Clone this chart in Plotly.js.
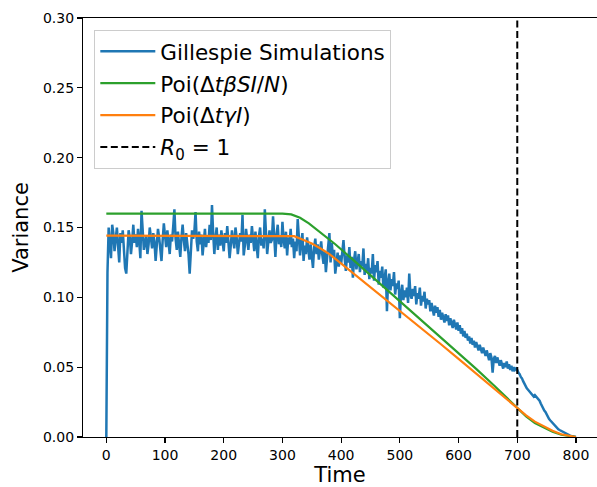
<!DOCTYPE html>
<html>
<head>
<meta charset="utf-8">
<script src="https://cdn.plot.ly/plotly-3.0.1.min.js"></script>
<style>html,body{margin:0;padding:0;background:#fff;}#chart{width:597px;height:487px;}</style>
</head>
<body>
<div id="chart"></div>
<script>
// ---- Gillespie simulation variance, sampled every 2 time units from t=0 to t=800 ----
var gillespieStart = 0;
var gillespieStep = 2;
var gillespieVariance = [
  0, 0.118, 0.150, 0.138, 0.128, 0.152, 0.146, 0.133, 0.142, 0.150, 0.137, 0.125, 0.146, 0.139, 0.148, 0.135, 0.121, 0.117, 0.134, 0.148, 0.143, 0.131, 0.140, 0.152, 0.139,
  0.145, 0.136, 0.149, 0.141, 0.128, 0.162, 0.147, 0.134, 0.139, 0.144, 0.131, 0.138, 0.150, 0.142, 0.135, 0.146, 0.140, 0.126, 0.137, 0.149, 0.143, 0.132, 0.126, 0.141, 0.153,
  0.144, 0.136, 0.148, 0.139, 0.131, 0.145, 0.140, 0.151, 0.163, 0.142, 0.134, 0.147, 0.138, 0.129, 0.143, 0.152, 0.141, 0.133, 0.146, 0.139, 0.131, 0.117, 0.136, 0.148, 0.142,
  0.147, 0.161, 0.140, 0.133, 0.147, 0.138, 0.145, 0.130, 0.142, 0.149, 0.136, 0.144, 0.139, 0.152, 0.141, 0.166, 0.146, 0.131, 0.143, 0.150, 0.134, 0.145, 0.137, 0.148, 0.140,
  0.133, 0.146, 0.139, 0.151, 0.142, 0.128, 0.137, 0.148, 0.141, 0.135, 0.150, 0.143, 0.131, 0.138, 0.146, 0.140, 0.159, 0.130, 0.137, 0.149, 0.142, 0.134, 0.145, 0.139, 0.151,
  0.140, 0.133, 0.147, 0.138, 0.128, 0.144, 0.150, 0.137, 0.142, 0.135, 0.163, 0.146, 0.131, 0.140, 0.148, 0.139, 0.141, 0.158, 0.143, 0.129, 0.145, 0.152, 0.138, 0.144, 0.136,
  0.154, 0.141, 0.135, 0.147, 0.130, 0.143, 0.138, 0.149, 0.136, 0.142, 0.128, 0.140, 0.133, 0.156, 0.144, 0.130, 0.139, 0.146, 0.126, 0.137, 0.131, 0.143, 0.135, 0.127, 0.138,
  0.129, 0.121, 0.136, 0.142, 0.131, 0.138, 0.127, 0.134, 0.140, 0.130, 0.124, 0.133, 0.118, 0.128, 0.137, 0.146, 0.125, 0.139, 0.129, 0.134, 0.117, 0.126, 0.132, 0.122, 0.130,
  0.124, 0.133, 0.141, 0.128, 0.119, 0.130, 0.125, 0.136, 0.121, 0.129, 0.114, 0.127, 0.133, 0.120, 0.125, 0.131, 0.118, 0.126, 0.122, 0.135, 0.116, 0.124, 0.119, 0.128, 0.113,
  0.121, 0.117, 0.131, 0.112, 0.123, 0.118, 0.126, 0.109, 0.119, 0.114, 0.122, 0.107, 0.116, 0.120, 0.090, 0.111, 0.117, 0.105, 0.113, 0.108, 0.118, 0.102, 0.110, 0.106, 0.112,
  0.085, 0.103, 0.109, 0.098, 0.105, 0.100, 0.107, 0.096, 0.117, 0.102, 0.099, 0.106, 0.101, 0.108, 0.095, 0.103, 0.099, 0.107, 0.094, 0.101, 0.097, 0.104, 0.092, 0.099, 0.095,
  0.098, 0.090, 0.096, 0.092, 0.087, 0.094, 0.089, 0.093, 0.086, 0.091, 0.084, 0.089, 0.086, 0.082, 0.088, 0.083, 0.087, 0.080, 0.085, 0.081, 0.078, 0.084, 0.080, 0.077, 0.082,
  0.076, 0.080, 0.074, 0.078, 0.072, 0.076, 0.071, 0.074, 0.069, 0.072, 0.067, 0.071, 0.066, 0.069, 0.064, 0.068, 0.065, 0.062, 0.066, 0.063, 0.060, 0.064, 0.061, 0.058, 0.062,
  0.059, 0.055, 0.060, 0.057, 0.046, 0.056, 0.058, 0.053, 0.057, 0.054, 0.051, 0.055, 0.052, 0.049, 0.053, 0.050, 0.054, 0.049, 0.052, 0.048, 0.051, 0.047, 0.050, 0.048, 0.049,
  0.048, 0.046, 0.045, 0.043, 0.042, 0.040, 0.038, 0.037, 0.035, 0.034, 0.033, 0.032, 0.031, 0.030, 0.029, 0.030, 0.029, 0.028, 0.027, 0.026, 0.024, 0.022, 0.020, 0.019, 0.018,
  0.016, 0.015, 0.013, 0.012, 0.011, 0.010, 0.009, 0.008, 0.007, 0.006, 0.0055, 0.005, 0.0045, 0.004, 0.0035, 0.003, 0.0026, 0.0022, 0.0018, 0.0014, 0.001, 0.0007, 0.0004, 0.0002, 0.0001, 0
];

// ---- Poi(Δt β S I / N) approximation ----
var infectionTime = [0, 300, 315, 330, 345, 360, 375, 390, 420, 450, 480, 510, 540, 570, 600, 630, 660, 680, 700, 715, 730, 745, 760, 775, 790, 800];
var infectionVariance = [0.16, 0.16, 0.1594, 0.1570, 0.1530, 0.1482, 0.1430, 0.1380, 0.1270, 0.1158, 0.1050, 0.0937, 0.0825, 0.0712, 0.0600, 0.0488, 0.0370, 0.0290, 0.0205, 0.0148, 0.0100, 0.0066, 0.0037, 0.0016, 0.0004, 0.0];

// ---- Poi(Δt γ I) approximation ----
var recoveryTime = [0, 310, 320, 335, 350, 365, 380, 395, 420, 450, 480, 510, 540, 570, 600, 630, 660, 680, 700, 715, 730, 745, 760, 775, 790, 800];
var recoveryVariance = [0.1442, 0.1442, 0.1438, 0.1412, 0.1385, 0.1350, 0.1310, 0.1260, 0.1175, 0.1072, 0.0975, 0.0872, 0.0768, 0.0664, 0.0560, 0.0455, 0.0350, 0.0280, 0.0205, 0.0155, 0.0110, 0.0075, 0.0045, 0.0020, 0.0006, 0.0];

// ---- R0 = 1 threshold ----
var thresholdTime = 700;
var yLimits = [0, 0.30];

var xTickValues = [0, 100, 200, 300, 400, 500, 600, 700, 800];
var yTickValues = [0, 0.05, 0.10, 0.15, 0.20, 0.25, 0.30];

var gillespieTime = gillespieVariance.map(function (_, i) { return gillespieStart + i * gillespieStep; });

var FONT = 'DejaVu Sans, Liberation Sans, sans-serif';

var traces = [
  {
    x: gillespieTime, y: gillespieVariance, type: 'scatter', mode: 'lines',
    name: 'Gillespie Simulations', legendgroup: 'a',
    line: {color: '#1f77b4', width: 2.5}
  },
  {
    x: infectionTime, y: infectionVariance, type: 'scatter', mode: 'lines',
    name: 'Poi(Δ<i>tβSI</i>/<i>N</i>)', legendgroup: 'b',
    line: {color: '#2ca02c', width: 2.2}
  },
  {
    x: recoveryTime, y: recoveryVariance, type: 'scatter', mode: 'lines',
    name: 'Poi(Δ<i>tγI</i>)', legendgroup: 'c',
    line: {color: '#ff7f0e', width: 2.2}
  },
  {
    x: [thresholdTime, thresholdTime], y: yLimits, type: 'scatter', mode: 'lines',
    name: '<i>R</i><sub>0</sub> = 1', legendgroup: 'd',
    line: {color: '#000000', width: 2, dash: '7px,3.5px'}
  }
];

var layout = {
  width: 597, height: 487,
  margin: {l: 83, r: 0, t: 18, b: 50, pad: 0},
  paper_bgcolor: '#ffffff', plot_bgcolor: '#ffffff',
  font: {family: FONT, color: '#000000', size: 14},
  showlegend: true,
  legend: {
    x: 0.022, y: 0.972, xanchor: 'left', yanchor: 'top',
    bgcolor: 'rgba(255,255,255,0.85)', bordercolor: '#cccccc', borderwidth: 1,
    font: {family: FONT, size: 21.5, color: '#000000'},
    traceorder: 'grouped', tracegroupgap: 1, itemwidth: 55
  },
  xaxis: {
    range: [-39.7, 835.8],
    tickmode: 'array', tickvals: xTickValues,
    ticks: 'outside', ticklen: 5, tickwidth: 1.1, tickcolor: '#000',
    showline: true, linecolor: '#000', linewidth: 1.1, mirror: true,
    showgrid: false, zeroline: false,
    tickfont: {family: FONT, size: 14, color: '#000'},
    title: {text: 'Time', font: {family: FONT, size: 21, color: '#000'}, standoff: 9}
  },
  yaxis: {
    range: yLimits,
    tickmode: 'array', tickvals: yTickValues, tickformat: '.2f',
    ticks: 'outside', ticklen: 5, tickwidth: 1.1, tickcolor: '#000',
    showline: true, linecolor: '#000', linewidth: 1.1, mirror: false,
    showgrid: false, zeroline: false,
    tickfont: {family: FONT, size: 14, color: '#000'},
    title: {text: 'Variance', font: {family: FONT, size: 21, color: '#000'}, standoff: 8}
  }
};

Plotly.newPlot('chart', traces, layout, {displayModeBar: false, staticPlot: true});
</script>
</body>
</html>
